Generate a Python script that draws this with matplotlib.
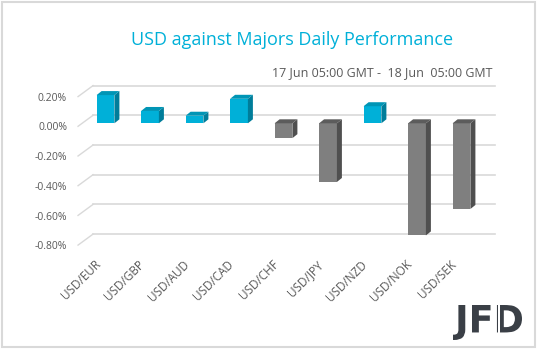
import numpy as np
import matplotlib.pyplot as plt
from matplotlib.patches import Polygon, Rectangle, PathPatch
from matplotlib.textpath import TextPath
from matplotlib.font_manager import FontProperties
from matplotlib.transforms import Affine2D

pairs = ['USD/EUR', 'USD/GBP', 'USD/AUD', 'USD/CAD', 'USD/CHF',
         'USD/JPY', 'USD/NZD', 'USD/NOK', 'USD/SEK']
changes = [0.19, 0.083, 0.051, 0.165, -0.10, -0.395, 0.115, -0.755, -0.577]
ticks = [0.2, 0.0, -0.2, -0.4, -0.6, -0.8]

title = 'USD against Majors Daily Performance'
subtitle = '17 Jun 05:00 GMT -  18 Jun  05:00 GMT'

W, H = 537, 351
fig = plt.figure(figsize=(W / 100, H / 100), dpi=100)
plt.rcParams['font.family'] = ['Open Sans', 'DejaVu Sans']

# axes box in pixels, and the pixel scale of the data
L, R, T, B = 60, 510, 75, 250
x0, xs = 105.5, 44.5    # px of first category, px per category
y0, ys = 123.3, 148.5   # px of zero line, px per 1 %
ax = fig.add_axes([L / W, 1 - B / H, (R - L) / W, (B - T) / H])
ax.set_xlim((L - x0) / xs, (R - x0) / xs)
ax.set_ylim((y0 - B) / ys, (y0 - T) / ys)
ax.axis('off')

grid_c = '#d9d9d9'
text_c = '#595959'

# back wall gridlines + floor diagonals + labels
for v in ticks:
    yb = v + 8 / ys
    xl = -0.28
    ax.plot([xl, 8.75], [yb, yb], color=grid_c, lw=1.2, zorder=1)
    ax.plot([xl, xl - 15 / xs], [yb, yb - 11 / ys], color=grid_c, lw=1.0, zorder=1)
    ax.text(-0.865, v - 4.7 / ys, f'{v:.2f}%', ha='right', va='center',
            fontsize=7.5, color=text_c)

# 3d-looking bars
hw = 0.2
ddx, ddy = 5 / xs, 4 / ys
for i, v in enumerate(changes):
    if v >= 0:
        cols = ('#00b0d8', '#007d9a', '#0095b5')
    else:
        cols = ('#7f7f7f', '#4f4f4f', '#5c5c5c')
    lo, hi = min(0, v), max(0, v)
    ax.add_patch(Rectangle((i - hw, lo), 2 * hw, hi - lo, fc=cols[0], ec='none', zorder=3))
    side = [(i + hw, lo), (i + hw, hi), (i + hw + ddx, hi + ddy), (i + hw + ddx, lo + ddy)]
    ax.add_patch(Polygon(side, closed=True, fc=cols[1], ec='none', zorder=3))
    top = [(i - hw, hi), (i + hw, hi), (i + hw + ddx, hi + ddy), (i - hw + ddx, hi + ddy)]
    ax.add_patch(Polygon(top, closed=True, fc=cols[2], ec='none', zorder=3))

# category labels
ylab = (y0 - 258) / ys
for i, p in enumerate(pairs):
    ax.text(i - 2.5 / xs, ylab, p, rotation=45, ha='right', va='top',
            fontsize=8.5, color=text_c)

fig.text(292 / W, 1 - 40 / H, title, ha='center', va='center',
         fontsize=13, color='#00b0d8')
fig.text(492 / W, 1 - 73 / H, subtitle, ha='right', va='center',
         fontsize=9, color=text_c)

# outer frame
fig.patches.append(Rectangle((2 / W, 4 / H), 533 / W, 345 / H, transform=fig.transFigure,
                             fill=False, ec=grid_c, lw=1.5))

# JFD logo stretched into its box
tp = TextPath((0, 0), 'JFD', size=1, prop=FontProperties(family='DejaVu Sans', weight='semibold'))
bb = tp.get_extents()
tx0, tx1, ty0, ty1 = 453, 522, 351 - 340, 351 - 305
tr = (Affine2D().translate(-bb.x0, -bb.y0)
      .scale((tx1 - tx0) / W / bb.width, (ty1 - ty0) / H / bb.height)
      .translate(tx0 / W, ty0 / H)) + fig.transFigure
fig.patches.append(PathPatch(tp, transform=tr, fc='#3a3f46', ec='none'))
# small gap with a candle inside the D stem
fig.patches.append(Rectangle((498 / W, ty0 / H), 1.5 / W, (ty1 - ty0) / H,
                             transform=fig.transFigure, fc='white', ec='none'))

fig.savefig('out.png', dpi=100)
